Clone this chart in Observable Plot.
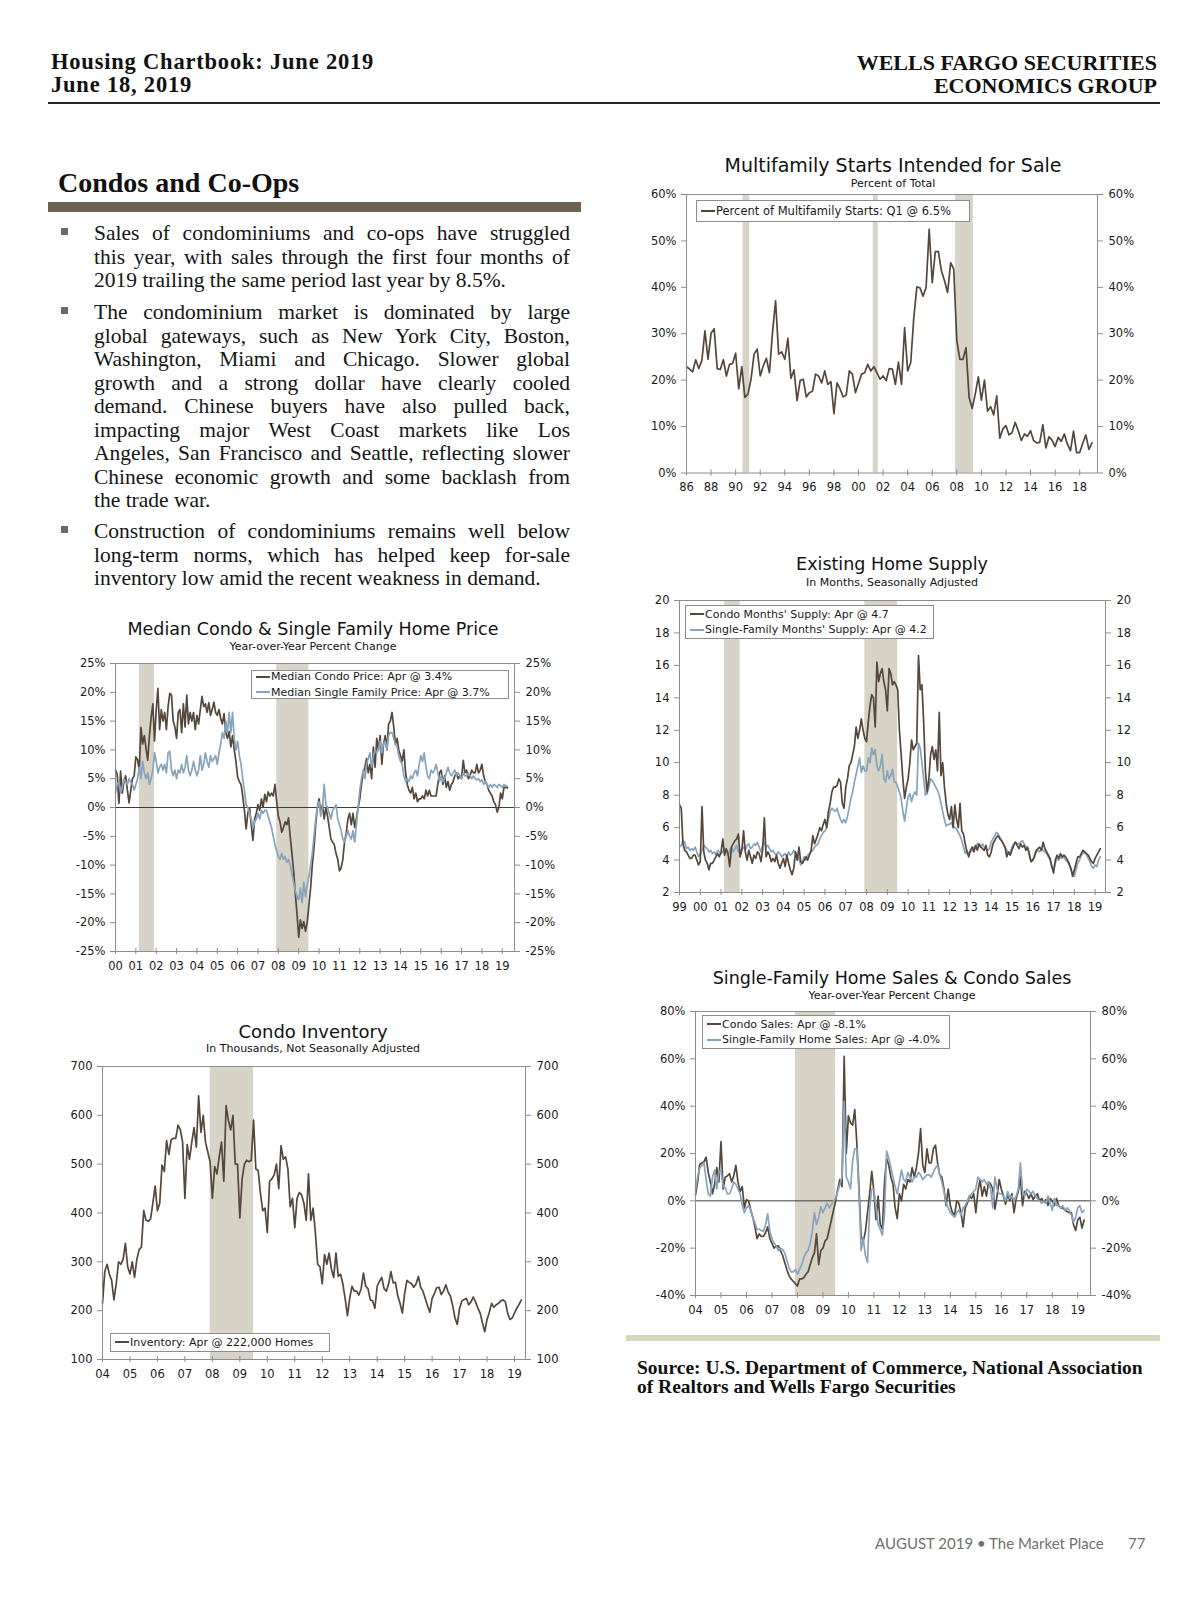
<!DOCTYPE html>
<html>
<head>
<meta charset="utf-8">
<script src="https://cdn.jsdelivr.net/npm/d3@7"></script>
<script src="https://cdn.jsdelivr.net/npm/@observablehq/plot@0.6"></script>
<style>
html,body{margin:0;padding:0;background:#fff;}
#page{position:relative;width:1200px;height:1606px;overflow:hidden;color:#111;}
.t{position:absolute;white-space:nowrap;line-height:1;}
.serif{font-family:"Liberation Serif","Times New Roman",serif;}
.sans{font-family:"DejaVu Sans",Verdana,sans-serif;}
</style>
</head>
<body>
<div id="page"></div>
<script>
// ---------------- DATA ----------------
// Multifamily starts intended for sale, % of total, quarterly from 1986 Q1
const mfStart = 1986;
const mfShare = [
  22.9, 22.4, 21.8, 24.4,  22.5, 24.2, 30.6, 24.5,  30.1, 31.1, 22.5, 22.3,  24.4, 20.9, 23.4, 23.6,
  25.8, 18.1, 22.9, 16.3,  17.0, 20.2, 25.6, 26.7,  20.9, 23.1, 24.7, 21.6,  30.3, 37.1, 25.6, 26.1,
  24.5, 29.0, 20.4, 22.2,  15.6, 19.9, 20.2, 16.4,  17.3, 17.6, 21.3, 20.9,  19.4, 22.0, 19.1, 19.7,
  12.8, 19.4, 18.1, 16.4,  16.8, 22.0, 21.3, 17.3,  19.3, 21.3, 21.6, 23.4,  22.0, 22.9, 21.6, 20.2,
  20.9, 19.9, 22.5, 22.4,  19.1, 23.9, 19.1, 31.3,  22.0, 23.8, 33.5, 40.1,  39.9, 38.1, 39.9, 52.5,
  41.0, 47.7, 47.7, 43.5,  41.4, 38.9, 45.3, 43.9,  28.5, 24.5, 24.5, 27.0,  16.3, 13.9, 17.0, 20.7,
  15.7, 20.0, 13.3, 14.3,  12.5, 16.6, 7.5, 9.5,   10.2, 8.2, 8.7, 10.9,   9.1, 7.0, 8.4, 7.9,
  9.1, 7.0, 6.5, 6.6,      10.4, 5.4, 7.8, 7.1,    5.7, 7.7, 6.8, 8.4,     6.2, 4.8, 9.0, 4.4,
  4.4, 6.4, 8.2, 5.1,      6.5
];
const mfYearTicks = [1986,1988,1990,1992,1994,1996,1998,2000,2002,2004,2006,2008,2010,2012,2014,2016,2018];
const mfPctTicks = [0,10,20,30,40,50,60];
const mfRecStart = [1990.6, 2001.2, 2007.9];
const mfRecEnd   = [1991.15, 2001.6, 2009.35];

// Existing home months' supply, monthly from Jan 1999
const supStart = 1999;
const supCondo = [
  7.4,7.2,5.0,4.6,4.5,4.3,4.1,4.1,4.3,4.3,4.0,3.7,
  3.9,7.3,4.5,4.0,3.8,3.4,3.8,3.8,4.0,4.2,4.4,4.2,
  4.5,5.3,4.3,4.7,4.4,3.6,4.8,5.0,5.2,5.3,5.6,4.2,
  4.6,5.8,4.5,4.0,4.6,4.2,3.8,4.3,4.1,4.5,4.4,3.9,
  4.6,6.6,4.2,4.5,4.3,3.9,4.1,3.9,4.3,3.8,3.5,3.8,
  4.1,3.6,4.3,3.8,3.4,3.1,3.5,4.5,4.0,4.8,3.9,3.8,
  4.0,4.2,4.0,4.3,4.6,5.5,5.0,5.3,5.6,6.0,5.8,6.2,
  6.5,6.0,7.0,7.5,8.2,8.5,8.5,8.6,9.0,8.8,7.5,7.2,
  8.5,9.0,9.8,10.0,10.5,11.0,12.2,11.5,12.0,12.7,12.0,11.5,
  11.3,12.5,13.5,14.2,14.0,12.2,16.2,15.0,15.5,15.8,15.0,14.5,
  13.2,15.8,15.5,14.8,15.0,14.8,14.5,12.0,10.5,9.0,7.8,8.5,
  9.0,10.0,11.4,10.8,11.0,11.2,16.6,14.5,14.8,12.5,9.5,8.2,
  9.0,10.5,11.0,10.2,10.8,9.5,13.1,9.2,10.0,8.5,7.5,6.8,
  6.5,7.3,6.0,7.4,6.5,6.0,7.5,5.8,5.6,5.0,4.5,4.2,
  4.6,4.8,4.5,4.9,4.6,5.0,4.8,4.7,4.6,4.9,4.3,4.2,
  4.5,5.0,5.2,5.4,5.5,5.3,5.2,5.0,4.8,4.2,4.5,4.3,
  4.6,4.9,5.1,4.9,4.7,5.0,4.8,4.9,4.6,4.8,4.3,3.9,
  4.0,4.2,4.6,4.7,4.8,4.6,5.1,4.7,4.5,4.3,4.1,3.6,
  3.2,4.0,4.3,4.1,4.4,4.2,4.3,4.2,4.0,3.8,3.5,3.0,
  3.4,3.8,4.2,4.2,4.4,4.6,4.5,4.4,4.3,4.1,3.9,3.8,
  4.1,4.3,4.5,4.7
];
const supSingle = [
  4.8,4.9,5.2,5.1,4.7,4.8,4.6,4.7,4.6,4.8,4.5,4.2,
  4.4,4.6,4.9,4.8,4.7,4.5,4.6,4.4,4.5,4.3,4.6,4.5,
  4.4,4.5,4.7,4.6,4.3,4.6,4.8,4.5,4.7,4.9,4.5,4.6,
  4.7,4.8,4.6,4.9,5.0,4.7,4.8,5.0,4.9,5.1,4.8,4.5,
  4.9,5.1,4.8,4.9,4.7,4.5,4.6,4.4,4.3,4.5,4.4,4.2,
  4.3,4.4,4.2,4.5,4.3,4.4,4.6,4.4,4.3,4.1,3.7,3.9,
  4.2,4.0,4.3,4.4,4.5,4.6,4.8,4.9,5.0,5.3,5.5,5.7,
  5.8,6.0,6.5,7.0,7.2,7.1,7.0,7.2,6.8,6.5,6.3,6.5,
  6.3,6.7,7.2,7.8,8.2,8.8,9.3,9.8,10.3,9.4,9.8,9.5,
  9.5,10.3,10.0,10.9,10.5,10.8,9.8,9.5,9.8,10.5,9.0,8.8,
  9.5,9.0,9.2,9.6,8.8,8.8,8.5,8.2,7.8,7.0,6.4,7.2,
  7.9,8.1,7.6,8.0,8.2,8.0,11.2,10.9,10.0,9.0,8.0,8.1,
  8.5,9.0,8.9,8.7,8.5,8.3,8.0,7.5,7.0,6.5,6.1,6.2,
  6.2,6.3,6.1,6.0,5.9,5.7,5.5,5.2,4.8,4.4,4.6,4.4,
  4.5,4.6,4.8,4.8,5.0,4.9,4.8,5.0,4.8,4.7,4.6,4.7,
  5.1,5.3,5.5,5.7,5.6,5.4,5.2,5.0,4.8,4.6,4.4,4.5,
  4.8,5.0,5.1,5.0,5.0,5.1,5.2,5.0,4.8,4.7,4.5,3.9,
  4.0,4.3,4.5,4.6,4.5,4.7,4.6,4.5,4.4,4.2,4.0,3.6,
  3.4,3.8,4.1,4.0,4.2,4.1,4.2,4.0,3.9,3.7,3.4,3.2,
  3.0,3.4,3.8,4.0,4.3,4.4,4.5,4.3,4.1,3.9,3.6,3.5,
  3.7,3.6,4.0,4.2
];
const supYearTicks = [1999,2000,2001,2002,2003,2004,2005,2006,2007,2008,2009,2010,2011,2012,2013,2014,2015,2016,2017,2018,2019];
const supMonthTicks = [2,4,6,8,10,12,14,16,18,20];

// Sales, year-over-year % change, monthly from Jan 2004
const salesStart = 2004;
const salesCondo = [
  2.5,8.0,15.5,16.0,16.5,18.5,12.0,8.0,3.0,7.0,14.0,8.0,
  25.0,5.0,10.0,10.5,11.5,8.0,10.5,15.0,8.0,4.0,6.0,-3.0,
  0.5,0.0,-4.0,-7.0,-11.0,-16.0,-14.0,-15.0,-15.0,-13.5,-11.0,-16.0,
  -18.0,-20.0,-19.0,-19.0,-21.0,-23.0,-26.0,-29.0,-31.5,-33.0,-34.0,-35.0,
  -36.0,-33.0,-33.0,-32.5,-31.0,-30.0,-27.0,-24.0,-22.0,-14.0,-27.0,-21.0,
  -20.0,-17.0,-16.0,-12.0,-8.0,-4.0,0.0,5.0,9.0,6.0,61.0,20.0,
  36.0,33.0,32.0,38.5,24.0,5.0,-15.0,-17.0,-13.0,-5.0,3.0,12.5,
  4.0,-8.0,2.0,-10.0,-12.0,8.0,18.0,15.0,10.0,7.0,-3.0,-7.5,
  3.0,0.0,7.0,5.0,9.0,8.0,14.0,10.0,14.0,20.0,30.5,15.0,
  12.0,22.0,16.0,16.0,22.0,23.5,16.0,11.0,10.0,5.0,-2.0,5.0,
  -2.0,-5.0,-6.0,0.0,-1.0,-5.0,-11.0,-3.0,-1.0,2.0,1.0,3.0,
  -5.0,4.0,9.0,2.0,6.0,2.0,8.0,7.0,5.0,-3.5,2.0,9.0,
  5.0,2.0,-1.5,3.0,0.0,3.0,-5.0,1.0,4.0,10.0,-2.0,4.0,
  3.0,1.0,3.0,0.5,2.0,3.0,0.0,1.0,-0.5,0.5,-2.0,1.0,
  0.0,-2.0,1.0,-2.0,-3.0,-3.0,-4.0,-4.5,-5.0,-5.0,-10.0,-12.5,
  -8.0,-7.0,-11.5,-8.1
];
const salesSingle = [
  4.5,10,14,15,16,9,3,2,10,13,5,12,
  13,6,5.5,3,3,5,8,7,5,3,-2,-5,
  -3,-2,-4,-7,-9.5,-12,-12,-12.5,-13,-10,-5.5,-13,
  -16,-18,-19,-21,-20,-20.5,-22,-25,-28,-30,-30,-29,
  -31,-29,-27,-24,-22,-21,-18,-13,-5,-10,-7,-2.5,
  -5,-3,-1,-3,-1.5,0,1,4,7,10,42,10,
  8,5,17,22,22,3,-21,-16,-23,-26,-3,5,
  5,-3,-10,-12,-14.5,-6,21,18,14,10,6,3,
  8,13,9,8,12,10,8,10,10,12,11,9,
  10,11,11,10,12,14,15,11,8,4,-1,-3,
  -5,-6,-7,-5,-4,-6,-3,-2,0,2,3,4,
  5,10,9,8,9,7,8,5,-3,10,5,3,
  3,2,0,4,1,2,0,2,5,16,4,2,
  5,4,3,4,2,1,0,-1,0,-1,2,-1,
  -4,1,-2,-2,-3,-2,-4,-3,-4,-6,-9,-7,
  -3,-2,-5,-4
];
const salesYearTicks = [2004,2005,2006,2007,2008,2009,2010,2011,2012,2013,2014,2015,2016,2017,2018,2019];
const salesPctTicks = [-40,-20,0,20,40,60,80];

// Median price, year-over-year % change, monthly from Jan 2000
const priceStart = 2000;
const priceCondo = [
  6.5,5.8,0.7,6.3,2.5,4.5,5.5,3.0,0.8,3.0,5.0,5.5,
  8.8,8.3,6.5,13.9,11.0,12.5,10.2,8.2,12.5,15.6,18.0,11.5,
  17.0,20.7,13.5,17.0,15.0,16.5,13.5,17.5,19.8,19.5,15.0,14.0,
  12.0,16.5,17.0,13.0,18.0,14.0,19.5,14.5,16.5,15.0,16.5,13.5,
  16.0,14.5,17.0,19.3,17.5,18.0,16.5,18.2,16.0,17.0,18.3,16.5,
  16.0,17.0,15.5,14.5,16.3,13.0,12.0,13.2,10.5,12.5,10.0,8.0,
  5.3,4.5,4.0,2.0,-0.5,-3.7,-1.0,0.0,-3.0,-5.7,-2.0,-1.0,
  0.5,-0.5,1.5,0.0,2.3,1.0,2.7,2.0,2.5,2.0,4.0,1.0,
  -1.5,-2.5,-4.3,-3.5,-2.5,-3.0,-1.8,-5.0,-8.0,-11.0,-15.0,-18.5,
  -22.5,-19.5,-21.0,-19.8,-21.5,-20.0,-17.0,-14.0,-10.0,-7.0,-3.0,0.0,
  1.5,-1.0,0.5,-2.0,0.0,-1.5,-3.5,-5.5,-6.0,-6.5,-8.0,-9.0,
  -11.0,-10.5,-9.0,-6.0,-4.5,-2.0,-1.0,-3.0,-1.0,-3.5,-2.0,0.0,
  1.5,4.0,6.0,7.0,8.5,6.0,7.5,5.0,10.5,7.0,12.0,10.0,
  12.5,7.5,11.0,12.5,10.0,14.5,15.0,16.5,14.0,11.0,12.0,10.0,
  9.0,8.0,10.0,6.0,4.0,3.0,2.5,3.5,1.5,2.5,1.0,1.5,
  1.5,2.0,1.5,3.0,2.0,3.0,2.0,2.0,2.0,2.0,4.0,6.0,
  6.5,4.0,5.5,3.5,4.5,3.0,4.0,4.5,5.5,6.0,5.0,5.5,
  5.0,8.2,6.0,6.5,5.0,5.5,6.5,6.0,6.0,7.5,6.0,6.5,
  7.5,5.5,4.5,4.0,3.0,2.5,2.0,1.0,0.5,-0.8,0.0,2.5,
  1.5,3.5,3.5,3.4
];
const priceSingle = [
  2.5,4.0,4.5,2.5,3.5,5.0,4.5,4.0,5.0,4.3,4.0,3.0,
  4.0,5.0,7.0,5.0,8.0,6.0,5.0,6.0,4.0,5.0,6.5,9.5,
  8.0,6.0,7.0,7.5,6.5,7.5,6.0,9.5,9.8,6.5,5.5,6.5,
  5.0,6.5,6.0,7.5,6.0,7.0,9.0,6.5,5.5,6.5,8.0,6.5,
  5.5,6.5,9.0,6.5,7.5,9.5,8.0,7.0,9.0,8.0,8.5,9.0,
  7.5,9.5,11.0,13.0,12.0,15.0,13.0,16.5,13.0,16.5,12.0,10.0,
  11.5,9.0,7.5,5.0,3.0,0.5,0.0,-1.0,-2.0,-3.5,-2.5,-2.0,
  -1.0,-2.0,-0.5,-1.0,-0.5,-0.5,-1.5,-2.5,-3.5,-5.0,-6.5,-7.5,
  -8.5,-9.0,-8.0,-9.0,-8.5,-9.5,-9.0,-10.0,-11.5,-13.0,-14.5,-15.5,
  -16.0,-14.0,-16.5,-13.0,-15.5,-13.5,-12.0,-10.0,-8.0,-5.0,-2.0,0.0,
  1.0,-1.5,0.0,4.0,0.5,0.0,-1.0,-2.0,-0.5,0.0,0.5,-2.0,
  -3.0,-4.0,-5.5,-6.0,-5.0,-4.0,-5.0,-5.5,-4.0,-6.0,-3.0,0.0,
  3.0,5.0,6.5,5.0,7.5,8.5,9.5,7.0,9.0,10.0,9.5,10.0,
  11.5,9.5,11.0,11.5,10.0,12.5,13.0,13.0,12.0,11.0,10.5,9.0,
  8.0,7.5,5.5,4.5,5.0,4.5,5.5,5.0,6.0,6.5,5.5,7.5,
  9.0,8.0,9.5,7.0,5.5,5.0,6.5,6.0,6.5,7.5,6.0,4.5,
  5.5,4.5,5.0,6.0,7.0,6.0,5.5,6.0,6.5,5.5,6.0,5.5,
  5.0,6.0,5.5,5.5,6.0,5.5,5.0,5.5,5.0,4.8,5.0,4.5,
  4.8,4.0,4.5,4.0,3.5,4.0,3.5,4.0,3.8,3.5,4.0,3.8,
  3.5,4.0,3.8,3.7
];
const priceYearTicks = [2000,2001,2002,2003,2004,2005,2006,2007,2008,2009,2010,2011,2012,2013,2014,2015,2016,2017,2018,2019];
const pricePctTicks = [-25,-20,-15,-10,-5,0,5,10,15,20,25];

// Condo inventory, thousands, monthly from Jan 2004
const invStart = 2004;
const invThousands = [
  215,280,295,275,262,222,255,300,295,305,338,290,
  275,300,268,305,325,330,405,385,383,388,420,455,
  405,420,498,485,548,520,550,553,553,580,570,545,
  430,540,510,545,575,535,640,565,600,545,525,505,
  430,495,480,515,545,465,620,590,570,600,500,500,
  390,470,500,508,505,508,590,490,487,440,405,410,
  360,465,470,478,500,450,538,510,515,490,413,430,
  370,430,442,437,420,385,480,385,410,360,295,290,
  255,315,295,318,285,268,318,270,275,255,225,190,
  225,250,240,240,232,245,277,250,245,222,220,205,
  250,260,268,245,240,255,280,257,258,230,215,195,
  235,262,258,255,248,255,270,248,240,225,210,197,
  225,235,247,248,233,240,253,238,230,210,185,172,
  205,220,223,225,212,218,228,218,205,195,175,157,
  182,197,215,207,212,215,220,222,218,195,182,185,
  195,205,213,222
];
const invYearTicks = [2004,2005,2006,2007,2008,2009,2010,2011,2012,2013,2014,2015,2016,2017,2018,2019];
const invTicks = [100,200,300,400,500,600,700];

// Recessions (decimal years) for the monthly charts
const recStart = [2001.17, 2007.92];
const recEnd   = [2001.92, 2009.5];

// Legend texts
const legMF = ["Percent of Multifamily Starts: Q1 @ 6.5%"];
const legSup = ["Condo Months' Supply: Apr @ 4.7", "Single-Family Months' Supply: Apr @ 4.2"];
const legSales = ["Condo Sales: Apr @ -8.1%", "Single-Family Home Sales: Apr @ -4.0%"];
const legPrice = ["Median Condo Price: Apr @ 3.4%", "Median Single Family Price: Apr @ 3.7%"];
const legInv = ["Inventory: Apr @ 222,000 Homes"];

// ---------------- STYLE ----------------
const BROWN = "#54473b";
const BLUE = "#88a3bb";
const REC = "#d7d3c6";
const AXIS = "#8c8c8c";

const page = document.getElementById("page");

function rowsFrom(start, step, values) {
  return values.map((v, i) => ({t: start + i * step, v}));
}
function recRows(starts, ends) {
  return starts.map((s, i) => ({start: s, end: ends[i]}));
}
const yy = d => String(d % 100).padStart(2, "0");
const pct = d => d + "%";
const num = d => String(d);

function text(str, {x, base, size, cls = "serif", weight = "normal", color = "#111", anchor = "start", asc = 0.84, ls = 0}) {
  const el = document.createElement("div");
  el.className = "t " + cls;
  el.textContent = str;
  el.style.fontSize = size + "px";
  el.style.fontWeight = weight;
  el.style.color = color;
  if (ls) el.style.letterSpacing = ls + "px";
  el.style.top = (base - asc * size) + "px";
  if (anchor === "start") { el.style.left = x + "px"; }
  else if (anchor === "end") { el.style.left = (x - 800) + "px"; el.style.width = "800px"; el.style.textAlign = "right"; }
  else { el.style.left = (x - 400) + "px"; el.style.width = "800px"; el.style.textAlign = "center"; }
  page.appendChild(el);
  return el;
}
function box(x, y, w, h, color) {
  const el = document.createElement("div");
  el.style.cssText = `position:absolute;left:${x}px;top:${y}px;width:${w}px;height:${h}px;background:${color};`;
  page.appendChild(el);
}

function chart(cfg) {
  const {frame, xDomain, yDomain, xTicks, yTicks, yFmt, series, rec, zero} = cfg;
  const mL = 60, mR = 60, mT = 12, mB = 30;
  const width = frame.x2 - frame.x1 + mL + mR;
  const height = frame.y2 - frame.y1 + mT + mB;
  const ax = {stroke: AXIS, fill: "#1a1a1a", label: null};
  const bands = rec
    .filter(r => r.end > xDomain[0] && r.start < xDomain[1])
    .map(r => ({start: Math.max(r.start, xDomain[0]), end: Math.min(r.end, xDomain[1])}));
  const svg = Plot.plot({
    width, height, marginLeft: mL, marginRight: mR, marginTop: mT, marginBottom: mB,
    x: {type: "linear", domain: xDomain},
    y: {type: "linear", domain: yDomain},
    style: {fontFamily: "'DejaVu Sans', Verdana, sans-serif", fontSize: "11.5px", background: "transparent", overflow: "visible"},
    marks: [
      Plot.rect(bands, {x1: "start", x2: "end", y1: yDomain[0], y2: yDomain[1], fill: REC}),
      zero ? Plot.ruleY([0], {stroke: "#3c3c3c", strokeWidth: 1}) : null,
      ...series.map(s => Plot.line(s.rows, {x: "t", y: "v", stroke: s.color, strokeWidth: 1.7})),
      Plot.frame({stroke: AXIS}),
      Plot.axisY({...ax, anchor: "left", ticks: yTicks, tickFormat: yFmt, tickSize: 5, tickPadding: 5}),
      Plot.axisY({...ax, anchor: "right", ticks: yTicks, tickFormat: yFmt, tickSize: 5, tickPadding: 6}),
      Plot.axisX({...ax, anchor: "bottom", ticks: xTicks, tickFormat: yy, tickSize: 3, tickPadding: 7}),
      Plot.axisX({...ax, anchor: "bottom", ticks: xTicks, tickFormat: () => "", tickSize: -3})
    ]
  });
  svg.style.position = "absolute";
  svg.style.left = (frame.x1 - mL) + "px";
  svg.style.top = (frame.y1 - mT) + "px";
  svg.style.maxWidth = "none";
  page.appendChild(svg);
}

function legend({x, y, w, h, size = 11, items}) {
  const d = document.createElement("div");
  d.className = "sans";
  d.style.cssText += `position:absolute;left:${x}px;top:${y}px;width:${w}px;height:${h}px;border:1px solid #8c8c8c;background:#fff;box-sizing:border-box;display:flex;flex-direction:column;justify-content:center;padding-left:4px;font-size:${size}px;color:#1a1a1a;`;
  items.forEach(it => {
    const r = document.createElement("div");
    r.style.cssText = "display:flex;align-items:center;line-height:1.4;white-space:nowrap;";
    const sw = document.createElement("span");
    sw.style.cssText = `display:inline-block;width:14px;height:2px;background:${it.color};margin-right:1px;`;
    r.appendChild(sw);
    r.appendChild(document.createTextNode(it.label));
    d.appendChild(r);
  });
  page.appendChild(d);
}

// ---------------- HEADER & TEXT ----------------
text("Housing Chartbook: June 2019", {x: 51, base: 70, size: 22.5, weight: "bold", ls: 0.8});
text("June 18, 2019", {x: 51, base: 93, size: 22.5, weight: "bold", ls: 0.8});
text("WELLS FARGO SECURITIES", {x: 1157, base: 70, size: 22, weight: "bold", anchor: "end"});
text("ECONOMICS GROUP", {x: 1157, base: 93, size: 22, weight: "bold", anchor: "end"});
box(48, 102, 1112, 2, "#222");

text("Condos and Co-Ops", {x: 58, base: 193, size: 28, weight: "bold"});
box(48, 202, 533, 10, "#6d6153");

const paragraphs = [
  ["Sales of condominiums and co-ops have struggled",
   "this year, with sales through the first four months of",
   "2019 trailing the same period last year by 8.5%."],
  ["The condominium market is dominated by large",
   "global gateways, such as New York City, Boston,",
   "Washington, Miami and Chicago. Slower global",
   "growth and a strong dollar have clearly cooled",
   "demand. Chinese buyers have also pulled back,",
   "impacting major West Coast markets like Los",
   "Angeles, San Francisco and Seattle, reflecting slower",
   "Chinese economic growth and some backlash from",
   "the trade war."],
  ["Construction of condominiums remains well below",
   "long-term norms, which has helped keep for-sale",
   "inventory low amid the recent weakness in demand."]
];
const paraBase = [241, 320, 539];
const LH = 23.56, BODY = 21.5, TXL = 94, TXW = 476;
const justLines = [];
paragraphs.forEach((lines, p) => {
  box(61, paraBase[p] - 13, 7, 7, "#6a6a6a");
  lines.forEach((ln, i) => {
    const el = text(ln, {x: TXL, base: paraBase[p] + i * LH, size: BODY, color: "#151515"});
    el.style.whiteSpace = "pre";
    if (i < lines.length - 1) justLines.push(el);
  });
});
function justify() {
  justLines.forEach(el => {
    el.style.wordSpacing = "0px";
    const w = el.getBoundingClientRect().width;
    const n = (el.textContent.match(/ /g) || []).length;
    if (n > 0) el.style.wordSpacing = ((TXW - w) / n) + "px";
  });
}
justify();
if (document.fonts && document.fonts.ready) document.fonts.ready.then(justify);

// ---------------- CHART A: Multifamily ----------------
text("Multifamily Starts Intended for Sale", {x: 893, base: 172, size: 19, cls: "sans", anchor: "middle"});
text("Percent of Total", {x: 893, base: 187, size: 11, cls: "sans", anchor: "middle"});
chart({
  frame: {x1: 686, x2: 1097, y1: 193.5, y2: 472},
  xDomain: [1986, 2019.45], yDomain: [0, 60],
  xTicks: mfYearTicks, yTicks: mfPctTicks, yFmt: pct,
  rec: recRows(mfRecStart, mfRecEnd),
  series: [{rows: rowsFrom(mfStart, 1/4, mfShare), color: BROWN}]
});
legend({x: 696, y: 200, w: 274, h: 22, size: 11.5, items: [{label: legMF[0], color: BROWN}]});

// ---------------- CHART B: Existing Home Supply ----------------
text("Existing Home Supply", {x: 892, base: 571, size: 17.5, cls: "sans", anchor: "middle"});
text("In Months, Seasonally Adjusted", {x: 892, base: 586, size: 11, cls: "sans", anchor: "middle"});
chart({
  frame: {x1: 679, x2: 1105, y1: 600, y2: 892},
  xDomain: [1999, 2019.5], yDomain: [2, 20],
  xTicks: supYearTicks, yTicks: supMonthTicks, yFmt: num,
  rec: recRows(recStart, recEnd),
  series: [
    {rows: rowsFrom(supStart, 1/12, supSingle), color: BLUE},
    {rows: rowsFrom(supStart, 1/12, supCondo), color: BROWN}
  ]
});
legend({x: 685, y: 605, w: 249, h: 34, items: [{label: legSup[0], color: BROWN}, {label: legSup[1], color: BLUE}]});

// ---------------- CHART C: Sales ----------------
text("Single-Family Home Sales & Condo Sales", {x: 892, base: 985, size: 17.5, cls: "sans", anchor: "middle"});
text("Year-over-Year Percent Change", {x: 892, base: 999, size: 11, cls: "sans", anchor: "middle"});
chart({
  frame: {x1: 695, x2: 1090, y1: 1011, y2: 1295},
  xDomain: [2004, 2019.5], yDomain: [-40, 80],
  xTicks: salesYearTicks, yTicks: salesPctTicks, yFmt: pct, zero: true,
  rec: recRows(recStart, recEnd),
  series: [
    {rows: rowsFrom(salesStart, 1/12, salesCondo), color: BROWN},
    {rows: rowsFrom(salesStart, 1/12, salesSingle), color: BLUE}
  ]
});
legend({x: 702, y: 1015, w: 248, h: 34, items: [{label: legSales[0], color: BROWN}, {label: legSales[1], color: BLUE}]});

// ---------------- CHART D: Median Price ----------------
text("Median Condo & Single Family Home Price", {x: 313, base: 636, size: 17.5, cls: "sans", anchor: "middle"});
text("Year-over-Year Percent Change", {x: 313, base: 650, size: 11, cls: "sans", anchor: "middle"});
chart({
  frame: {x1: 115, x2: 514, y1: 662.5, y2: 950.5},
  xDomain: [2000, 2019.6], yDomain: [-25, 25],
  xTicks: priceYearTicks, yTicks: pricePctTicks, yFmt: pct, zero: true,
  rec: recRows(recStart, recEnd),
  series: [
    {rows: rowsFrom(priceStart, 1/12, priceCondo), color: BROWN},
    {rows: rowsFrom(priceStart, 1/12, priceSingle), color: BLUE}
  ]
});
legend({x: 251, y: 670, w: 258, h: 29, items: [{label: legPrice[0], color: BROWN}, {label: legPrice[1], color: BLUE}]});

// ---------------- CHART E: Condo Inventory ----------------
text("Condo Inventory", {x: 313, base: 1038, size: 18, cls: "sans", anchor: "middle"});
text("In Thousands, Not Seasonally Adjusted", {x: 313, base: 1052, size: 11, cls: "sans", anchor: "middle"});
chart({
  frame: {x1: 102, x2: 525, y1: 1066, y2: 1359},
  xDomain: [2004, 2019.4], yDomain: [100, 700],
  xTicks: invYearTicks, yTicks: invTicks, yFmt: num,
  rec: recRows(recStart, recEnd),
  series: [{rows: rowsFrom(invStart, 1/12, invThousands), color: BROWN}]
});
legend({x: 110, y: 1333, w: 220, h: 19, items: [{label: legInv[0], color: BROWN}]});

// ---------------- SOURCE & FOOTER ----------------
box(626, 1335, 534, 6, "#d5d8bf");
text("Source: U.S. Department of Commerce, National Association", {x: 637, base: 1374, size: 19.5, weight: "bold"});
text("of Realtors and Wells Fargo Securities", {x: 637, base: 1393, size: 19.5, weight: "bold"});
const f1 = text("AUGUST 2019 \u2022 The Market Place", {x: 875, base: 1549, size: 15, cls: "", color: "#707070", asc: 0.89});
f1.style.fontFamily = "Lato, sans-serif";
const f2 = text("77", {x: 1128, base: 1549, size: 15, cls: "", color: "#707070", asc: 0.89});
f2.style.fontFamily = "Lato, sans-serif";
</script>
</body>
</html>
